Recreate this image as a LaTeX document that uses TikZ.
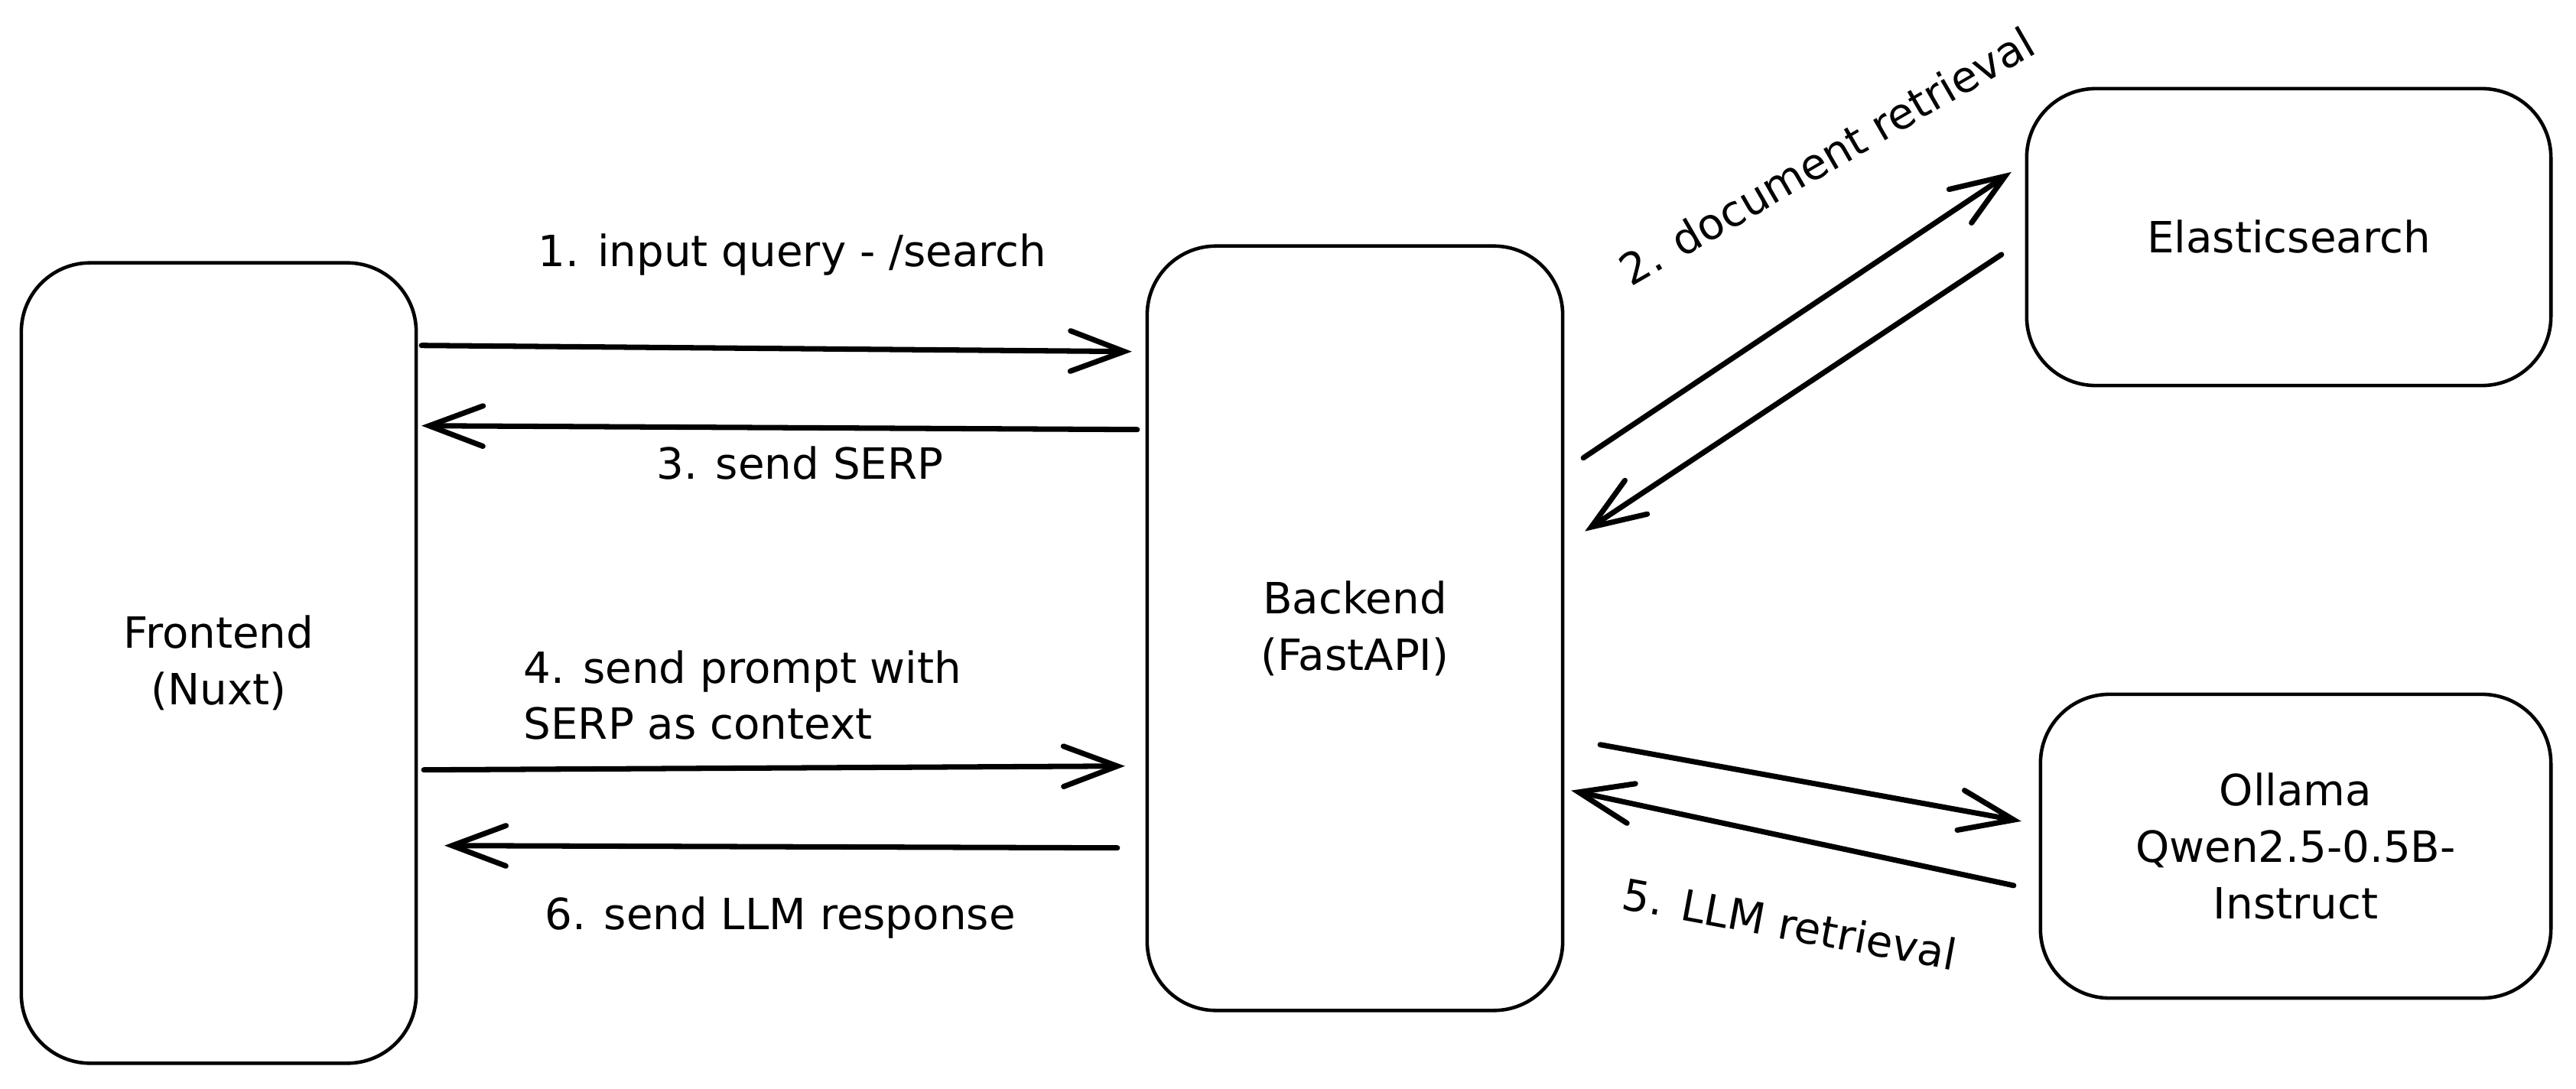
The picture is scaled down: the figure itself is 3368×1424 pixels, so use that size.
\documentclass[tikz,border=0pt]{standalone}
\usepackage{fontspec}
\setmainfont{DejaVu Sans}
\usetikzlibrary{arrows.meta}

\tikzset{
    box/.style={draw, line width=1.3pt, rounded corners=0.9cm, outer sep=0pt, align=center,
        font=\fontsize{16pt}{21pt}\selectfont},
    lbl/.style={font=\fontsize{16pt}{21pt}\selectfont, inner sep=0pt},
    flow/.style={line width=2pt, line cap=round, -{Straight Barb[length=20pt,width=15pt,line cap=round]}}
}

\begin{document}
\begin{tikzpicture}[x=0.01cm, y=-0.01cm]

    % Page size (pixels of the sketch)
    \useasboundingbox (0,0) rectangle (3368,1424);

    % Boxes
    \node[box, minimum width=5.16cm, minimum height=10.46cm] (front) at (286,867) {Frontend\\(Nuxt)};
    \node[box, minimum width=5.43cm, minimum height=9.99cm] (back) at (1771.5,821.5) {Backend\\(FastAPI)};
    \node[box, minimum width=6.85cm, minimum height=3.88cm] (elastic) at (2992.5,310) {Elasticsearch};
    \node[box, minimum width=6.67cm, minimum height=3.97cm] (ollama) at (3001.5,1106.5) {Ollama\\Qwen2.5-0.5B-\\Instruct};

    % Frontend <-> Backend
    \draw[flow] ([shift={(7,108)}]front.north east) -- ([shift={(-20,138)}]back.north west); % query
    \draw[flow] ([shift={(-13,240)}]back.north west) -- ([shift={(7,213)}]front.north east); % SERP
    \draw[flow] ([shift={(10,663)}]front.north east) -- ([shift={(-29,680)}]back.north west); % prompt
    \draw[flow] ([shift={(-39,787)}]back.north west) -- ([shift={(37,762)}]front.north east); % answer

    % Backend <-> Elasticsearch
    \draw[flow] ([shift={(27,277)}]back.north east) -- ([shift={(-20,109)}]elastic.north west);
    \draw[flow] ([shift={(-33,217)}]elastic.north west) -- ([shift={(29,373)}]back.north east);

    % Backend <-> Ollama
    \draw[flow] ([shift={(49,652)}]back.north east) -- ([shift={(-25,166)}]ollama.north west);
    \draw[flow] ([shift={(-35,250)}]ollama.north west) -- ([shift={(11,712)}]back.north east);

    % Step labels
    \node[lbl] (l1) at (1036,333) {1. input query - /search};
    \node[lbl, rotate=30] (l2) at (2388,204) {2. document retrieval};
    \node[lbl] (l3) at (1046,606) {3. send SERP};
    \node[lbl, anchor=west, align=left] (l4) at (684,909) {4. send prompt with\\SERP as context};
    \node[lbl, rotate=-10.5] (l5) at (2340,1208) {5. LLM retrieval};
    \node[lbl] (l6) at (1020,1200) {6. send LLM response};

\end{tikzpicture}
\end{document}
